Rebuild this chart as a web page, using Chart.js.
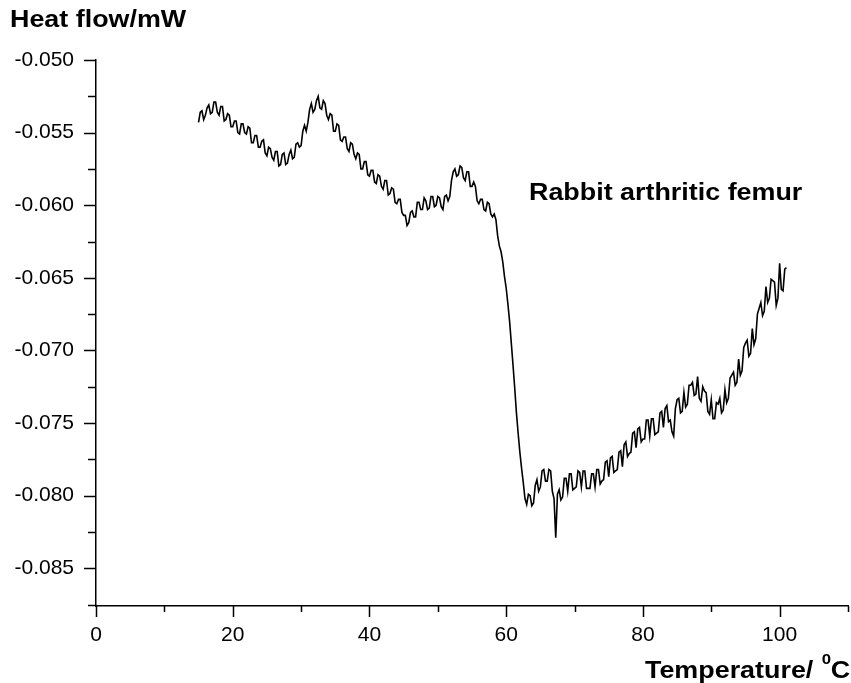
<!DOCTYPE html>
<html>
<head>
<meta charset="utf-8">
<script src="https://cdn.jsdelivr.net/npm/chart.js@4/dist/chart.umd.min.js"></script>
<style>
  html, body { margin: 0; padding: 0; background: #fff; }
  #out { display: block; }
</style>
</head>
<body>
<canvas id="out" width="851" height="683"></canvas>
<script>
// DSC trace (one row per degree)
const temps = [
  15, 15.25, 15.5, 15.75, 16, 16.25, 16.5, 16.75, 17, 17.25, 17.5, 17.75,
  18, 18.25, 18.5, 18.75, 19, 19.25, 19.5, 19.75, 20, 20.25, 20.5, 20.75,
  21, 21.25, 21.5, 21.75, 22, 22.25, 22.5, 22.75, 23, 23.25, 23.5, 23.75,
  24, 24.25, 24.5, 24.75, 25, 25.25, 25.5, 25.75, 26, 26.25, 26.5, 26.75,
  27, 27.25, 27.5, 27.75, 28, 28.25, 28.5, 28.75, 29, 29.25, 29.5, 29.75,
  30, 30.25, 30.5, 30.75, 31, 31.25, 31.5, 31.75, 32, 32.25, 32.5, 32.75,
  33, 33.25, 33.5, 33.75, 34, 34.25, 34.5, 34.75, 35, 35.25, 35.5, 35.75,
  36, 36.25, 36.5, 36.75, 37, 37.25, 37.5, 37.75, 38, 38.25, 38.5, 38.75,
  39, 39.25, 39.5, 39.75, 40, 40.25, 40.5, 40.75, 41, 41.25, 41.5, 41.75,
  42, 42.25, 42.5, 42.75, 43, 43.25, 43.5, 43.75, 44, 44.25, 44.5, 44.75,
  45, 45.25, 45.5, 45.75, 46, 46.25, 46.5, 46.75, 47, 47.25, 47.5, 47.75,
  48, 48.25, 48.5, 48.75, 49, 49.25, 49.5, 49.75, 50, 50.25, 50.5, 50.75,
  51, 51.25, 51.5, 51.75, 52, 52.25, 52.5, 52.75, 53, 53.25, 53.5, 53.75,
  54, 54.25, 54.5, 54.75, 55, 55.25, 55.5, 55.75, 56, 56.25, 56.5, 56.75,
  57, 57.25, 57.5, 57.75, 58, 58.25, 58.5, 58.75, 59, 59.25, 59.5, 59.75,
  60, 60.25, 60.5, 60.75, 61, 61.25, 61.5, 61.75, 62, 62.25, 62.5, 62.75,
  63, 63.25, 63.5, 63.75, 64, 64.25, 64.5, 64.75, 65, 65.25, 65.5, 65.75,
  66, 66.25, 66.5, 66.75, 67, 67.25, 67.5, 67.75, 68, 68.25, 68.5, 68.75,
  69, 69.25, 69.5, 69.75, 70, 70.25, 70.5, 70.75, 71, 71.25, 71.5, 71.75,
  72, 72.25, 72.5, 72.75, 73, 73.25, 73.5, 73.75, 74, 74.25, 74.5, 74.75,
  75, 75.25, 75.5, 75.75, 76, 76.25, 76.5, 76.75, 77, 77.25, 77.5, 77.75,
  78, 78.25, 78.5, 78.75, 79, 79.25, 79.5, 79.75, 80, 80.25, 80.5, 80.75,
  81, 81.25, 81.5, 81.75, 82, 82.25, 82.5, 82.75, 83, 83.25, 83.5, 83.75,
  84, 84.25, 84.5, 84.75, 85, 85.25, 85.5, 85.75, 86, 86.25, 86.5, 86.75,
  87, 87.25, 87.5, 87.75, 88, 88.25, 88.5, 88.75, 89, 89.25, 89.5, 89.75,
  90, 90.25, 90.5, 90.75, 91, 91.25, 91.5, 91.75, 92, 92.25, 92.5, 92.75,
  93, 93.25, 93.5, 93.75, 94, 94.25, 94.5, 94.75, 95, 95.25, 95.5, 95.75,
  96, 96.25, 96.5, 96.75, 97, 97.25, 97.5, 97.75, 98, 98.25, 98.5, 98.75,
  99, 99.25, 99.5, 99.75, 100, 100.25, 100.5, 100.75, 101
];
const heatFlow = [
  -0.0543, -0.0536, -0.0535, -0.0541, -0.0538, -0.0533, -0.0531, -0.0537, -0.0536, -0.0529, -0.0529, -0.0536,
  -0.0538, -0.0532, -0.0532, -0.0542, -0.0541, -0.0537, -0.0538, -0.0546, -0.0546, -0.0542, -0.0542, -0.0550,
  -0.0551, -0.0544, -0.0544, -0.0550, -0.0551, -0.0546, -0.0547, -0.0557, -0.0557, -0.0552, -0.0552, -0.0560,
  -0.0560, -0.0556, -0.0555, -0.0564, -0.0566, -0.0560, -0.0561, -0.0567, -0.0569, -0.0563, -0.0563, -0.0573,
  -0.0572, -0.0565, -0.0564, -0.0572, -0.0571, -0.0565, -0.0562, -0.0568, -0.0567, -0.0558, -0.0557, -0.0560,
  -0.0559, -0.0549, -0.0545, -0.0549, -0.0543, -0.0534, -0.0530, -0.0536, -0.0534, -0.0528, -0.0525, -0.0533,
  -0.0534, -0.0528, -0.0530, -0.0538, -0.0541, -0.0537, -0.0538, -0.0549, -0.0549, -0.0544, -0.0545, -0.0555,
  -0.0556, -0.0553, -0.0553, -0.0561, -0.0563, -0.0557, -0.0558, -0.0565, -0.0568, -0.0564, -0.0565, -0.0575,
  -0.0575, -0.0570, -0.0570, -0.0579, -0.0580, -0.0576, -0.0576, -0.0584, -0.0585, -0.0579, -0.0580, -0.0587,
  -0.0589, -0.0583, -0.0583, -0.0593, -0.0592, -0.0588, -0.0589, -0.0598, -0.0599, -0.0596, -0.0596, -0.0605,
  -0.0607, -0.0607, -0.0614, -0.0612, -0.0605, -0.0604, -0.0608, -0.0608, -0.0598, -0.0598, -0.0603, -0.0603,
  -0.0595, -0.0597, -0.0603, -0.0602, -0.0594, -0.0594, -0.0601, -0.0600, -0.0594, -0.0595, -0.0601, -0.0603,
  -0.0594, -0.0593, -0.0597, -0.0594, -0.0583, -0.0577, -0.0575, -0.0580, -0.0579, -0.0573, -0.0574, -0.0581,
  -0.0583, -0.0577, -0.0577, -0.0587, -0.0587, -0.0584, -0.0587, -0.0597, -0.0599, -0.0596, -0.0596, -0.0603,
  -0.0604, -0.0598, -0.0599, -0.0606, -0.0608, -0.0606, -0.0610, -0.0621, -0.0628, -0.0632, -0.0639, -0.0649,
  -0.0657, -0.0668, -0.0680, -0.0695, -0.0710, -0.0726, -0.0743, -0.0757, -0.0770, -0.0781, -0.0791, -0.0802,
  -0.0806, -0.0799, -0.0800, -0.0807, -0.0805, -0.0793, -0.0789, -0.0797, -0.0794, -0.0783, -0.0782, -0.0790,
  -0.0790, -0.0782, -0.0783, -0.0797, -0.0802, -0.0829, -0.0799, -0.0796, -0.0803, -0.0801, -0.0788, -0.0788,
  -0.0797, -0.0785, -0.0785, -0.0796, -0.0795, -0.0794, -0.0783, -0.0784, -0.0794, -0.0783, -0.0783, -0.0795,
  -0.0795, -0.0795, -0.0785, -0.0785, -0.0794, -0.0782, -0.0782, -0.0792, -0.0790, -0.0789, -0.0777, -0.0776,
  -0.0787, -0.0774, -0.0773, -0.0784, -0.0783, -0.0782, -0.0770, -0.0769, -0.0780, -0.0765, -0.0763, -0.0773,
  -0.0771, -0.0770, -0.0757, -0.0756, -0.0767, -0.0754, -0.0753, -0.0763, -0.0761, -0.0761, -0.0748, -0.0748,
  -0.0759, -0.0747, -0.0747, -0.0758, -0.0757, -0.0756, -0.0743, -0.0742, -0.0753, -0.0740, -0.0738, -0.0749,
  -0.0748, -0.0756, -0.0759, -0.0740, -0.0734, -0.0733, -0.0743, -0.0742, -0.0729, -0.0739, -0.0737, -0.0724,
  -0.0724, -0.0722, -0.0731, -0.0730, -0.0718, -0.0733, -0.0735, -0.0725, -0.0728, -0.0729, -0.0742, -0.0744,
  -0.0734, -0.0747, -0.0747, -0.0736, -0.0737, -0.0733, -0.0743, -0.0741, -0.0727, -0.0736, -0.0733, -0.0719,
  -0.0717, -0.0715, -0.0724, -0.0722, -0.0706, -0.0717, -0.0714, -0.0698, -0.0695, -0.0693, -0.0704, -0.0702,
  -0.0685, -0.0696, -0.0692, -0.0675, -0.0671, -0.0667, -0.0676, -0.0673, -0.0656, -0.0667, -0.0664, -0.0651,
  -0.0652, -0.0653, -0.0669, -0.0664, -0.0640, -0.0658, -0.0659, -0.0644, -0.0643
];

const xMin = 0, xMax = 110, xStep = 10, xLabelStep = 20, xLabelMax = 100;
const yMin = -0.0876, yMax = -0.050, yStep = 0.0025, yLabelStep = 0.005;

const yTitle = "Heat flow/mW";
const xTitle = "Temperature/ ";
const xTitleSup = "0";
const xTitleUnit = "C";
const sampleLabel = "Rabbit arthritic femur";

const FONT = "'Liberation Sans', Arial, sans-serif";

function isMultiple(v, step) {
  const r = v / step;
  return Math.abs(r - Math.round(r)) < 1e-6;
}

// tick marks (major long, minor short) and titles
const decoPlugin = {
  id: "deco",
  afterDraw(chart) {
    const ctx = chart.ctx;
    const xs = chart.scales.x, ys = chart.scales.y;
    const area = chart.chartArea;
    ctx.save();
    ctx.strokeStyle = "#000";
    ctx.lineWidth = 1.5;
    ctx.beginPath();
    xs.ticks.forEach(t => {
      const px = Math.round(xs.getPixelForValue(t.value)) + 0.5;
      const len = isMultiple(t.value, xLabelStep) && t.value <= xLabelMax ? 11 : 6;
      ctx.moveTo(px, area.bottom);
      ctx.lineTo(px, area.bottom + len);
    });
    ys.ticks.forEach(t => {
      const py = Math.round(ys.getPixelForValue(t.value)) + 0.5;
      const len = isMultiple(t.value, yLabelStep) ? 12 : 8;
      ctx.moveTo(area.left, py);
      ctx.lineTo(area.left - len, py);
    });
    ctx.stroke();

    ctx.fillStyle = "#000";
    ctx.textBaseline = "alphabetic";
    ctx.textAlign = "left";
    const sx = 1.12;
    function txt(s, x, y, size) {
      ctx.save();
      ctx.translate(x, y);
      ctx.scale(sx, 1);
      ctx.font = "bold " + size + "px " + FONT;
      ctx.fillText(s, 0, 0);
      const w = ctx.measureText(s).width * sx;
      ctx.restore();
      return w;
    }
    txt(yTitle, 10, 27, 24);
    txt(sampleLabel, 529, 200, 24);
    let x = 645;
    x += txt(xTitle, x, 678, 24);
    txt(xTitleSup, x + 1, 664, 15);
    txt(xTitleUnit, x + 10, 678, 24);
    ctx.restore();
  }
};

const points = temps.map((t, i) => ({ x: t, y: heatFlow[i] }));

const chartConfig = {
  type: "line",
  data: {
    datasets: [{
      data: points,
      borderColor: "#000",
      borderWidth: 1.6,
      pointRadius: 0,
      tension: 0,
      fill: false
    }]
  },
  options: {
    responsive: false,
    animation: false,
    devicePixelRatio: 1,
    layout: { padding: { top: 60, right: 3, left: 0, bottom: 0 } },
    plugins: { legend: { display: false }, tooltip: { enabled: false } },
    scales: {
      x: {
        type: "linear",
        min: xMin,
        max: xMax,
        grid: { display: false, drawTicks: false },
        border: { display: true, color: "#000", width: 1.5 },
        afterFit: s => { s.height = 77; s.paddingLeft = 0; s.paddingRight = 0; },
        ticks: {
          stepSize: xStep,
          autoSkip: false,
          maxRotation: 0,
          padding: 17,
          color: "#000",
          font: { family: FONT, size: 21 },
          callback: v => (isMultiple(v, xLabelStep) && v <= xLabelMax ? String(v) : "")
        }
      },
      y: {
        type: "linear",
        min: yMin,
        max: yMax,
        grid: { display: false, drawTicks: false },
        border: { display: true, color: "#000", width: 1.5 },
        afterFit: s => { s.width = 96; },
        ticks: {
          stepSize: yStep,
          includeBounds: false,
          autoSkip: false,
          padding: 22,
          color: "#000",
          font: { family: FONT, size: 21 },
          callback: v => (isMultiple(v, yLabelStep) ? v.toFixed(3) : "")
        }
      }
    }
  },
  plugins: [decoPlugin]
};

const canvasCtx = document.getElementById("out").getContext("2d");
window.chart = new Chart(canvasCtx, chartConfig);
</script>
</body>
</html>
